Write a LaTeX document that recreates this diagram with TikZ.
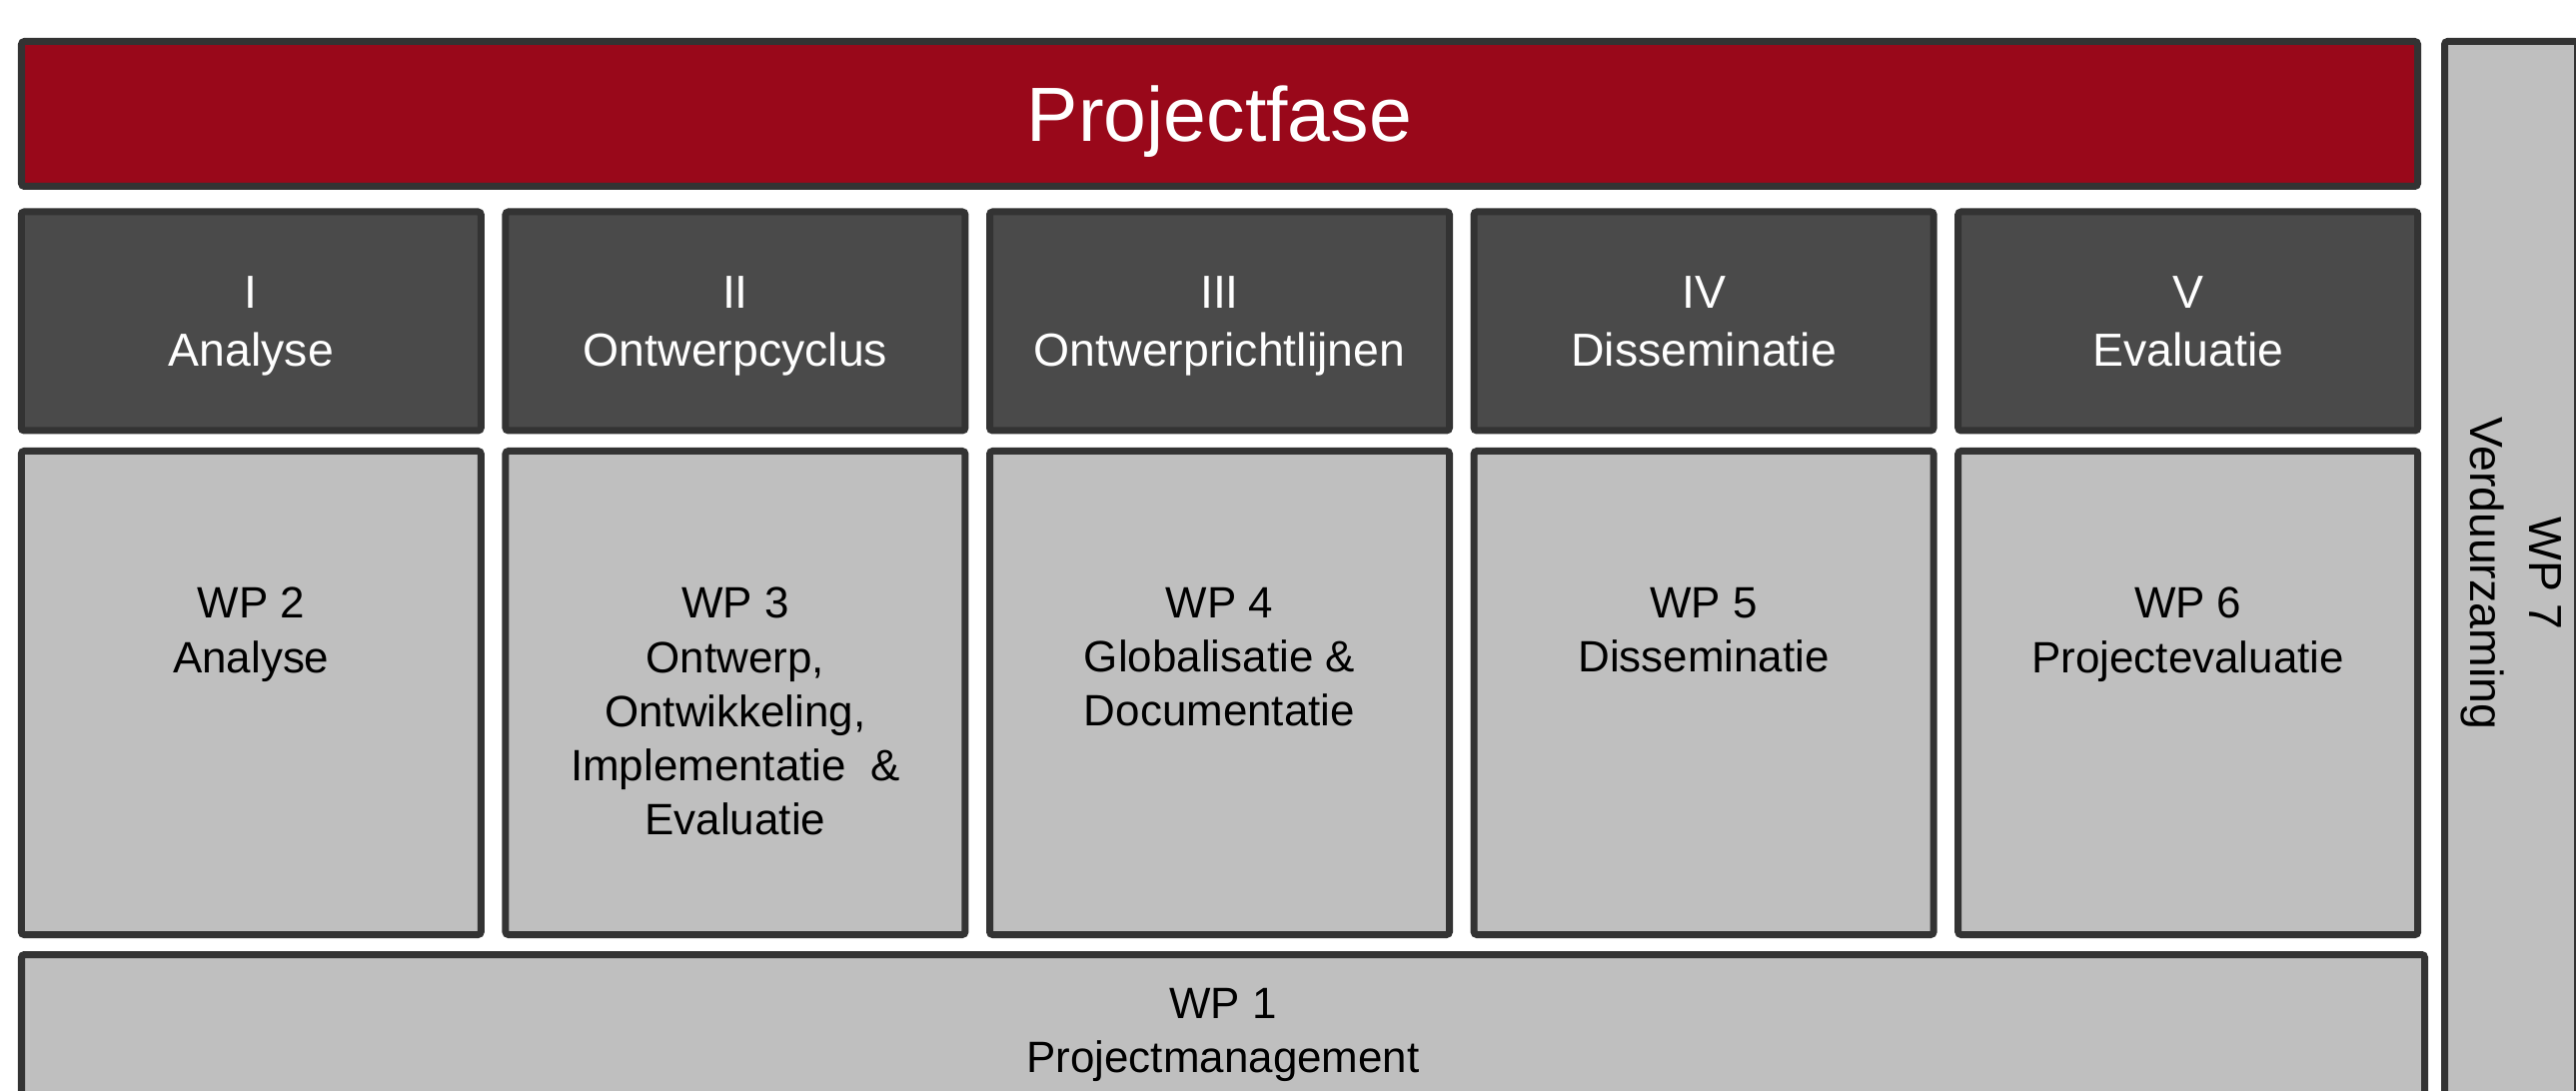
\documentclass[tikz,border=0pt]{standalone}
\usepackage{fontspec}
\setmainfont{Liberation Sans}
\usepackage{tikz}
\usetikzlibrary{positioning}
\definecolor{faserood}{RGB}{153,8,26}
\definecolor{stapgrijs}{RGB}{74,74,74}
\definecolor{wpgrijs}{RGB}{191,191,191}
\definecolor{rand}{RGB}{51,51,51}

\begin{document}
\begin{tikzpicture}
\tikzstyle{blok} = [draw=rand,line width=0.07cm,rounded corners=0.03cm,inner sep=0pt]
\tikzstyle{fase} = [blok,fill=faserood,text=white,text depth=0pt,minimum width=23.98cm,minimum height=1.45cm,font=\fontsize{21.9}{26}\selectfont]
\tikzstyle{stap} = [blok,fill=stapgrijs,text=white,align=center,text depth=0pt,minimum width=4.60cm,minimum height=2.19cm,font=\fontsize{13.2}{16.5}\selectfont,node distance=4.846cm]
\tikzstyle{wp} = [blok,fill=wpgrijs,minimum width=4.60cm,minimum height=4.84cm,node distance=4.846cm]
\tikzstyle{wptekst} = [anchor=north,inner sep=0pt,yshift=-1.395cm,align=center,font=\fontsize{12.5}{15.4}\selectfont]

\useasboundingbox (0,0) rectangle (25.78,-10.92);

\node[fase] (fase) at (12.205,-1.14) {Projectfase};

\node[stap,below of=fase,node distance=2.075cm] (st3) {III\\Ontwerprichtlijnen};
\node[stap,left of=st3] (st2) {II\\Ontwerpcyclus};
\node[stap,left of=st2] (st1) {I\\Analyse};
\node[stap,right of=st3] (st4) {IV\\Disseminatie};
\node[stap,right of=st4] (st5) {V\\Evaluatie};

\node[wp,below of=st3,node distance=3.72cm,label={[wptekst]north:WP 4\\Globalisatie \&\\Documentatie}] (wp4) {};
\node[wp,left of=wp4,label={[wptekst]north:WP 3\\Ontwerp,\\Ontwikkeling,\\Implementatie~~\&\\Evaluatie}] (wp3) {};
\node[wp,left of=wp3,label={[wptekst]north:WP 2\\Analyse}] (wp2) {};
\node[wp,right of=wp4,label={[wptekst]north:WP 5\\Disseminatie}] (wp5) {};
\node[wp,right of=wp5,label={[wptekst]north:WP 6\\Projectevaluatie}] (wp6) {};

\node[blok,fill=wpgrijs,below of=wp4,node distance=3.375cm,xshift=0.035cm,minimum width=24.05cm,minimum height=1.51cm,align=center,text depth=0pt,font=\fontsize{12.5}{15.4}\selectfont] (wp1) {WP 1\\Projectmanagement};

\node[blok,fill=wpgrijs,rotate=-90,minimum width=10.65cm,minimum height=1.33cm,align=center,font=\fontsize{13.2}{17}\selectfont] (wp7) at (25.13,-5.74) {WP 7\\Verduurzaming};

\end{tikzpicture}
\end{document}
